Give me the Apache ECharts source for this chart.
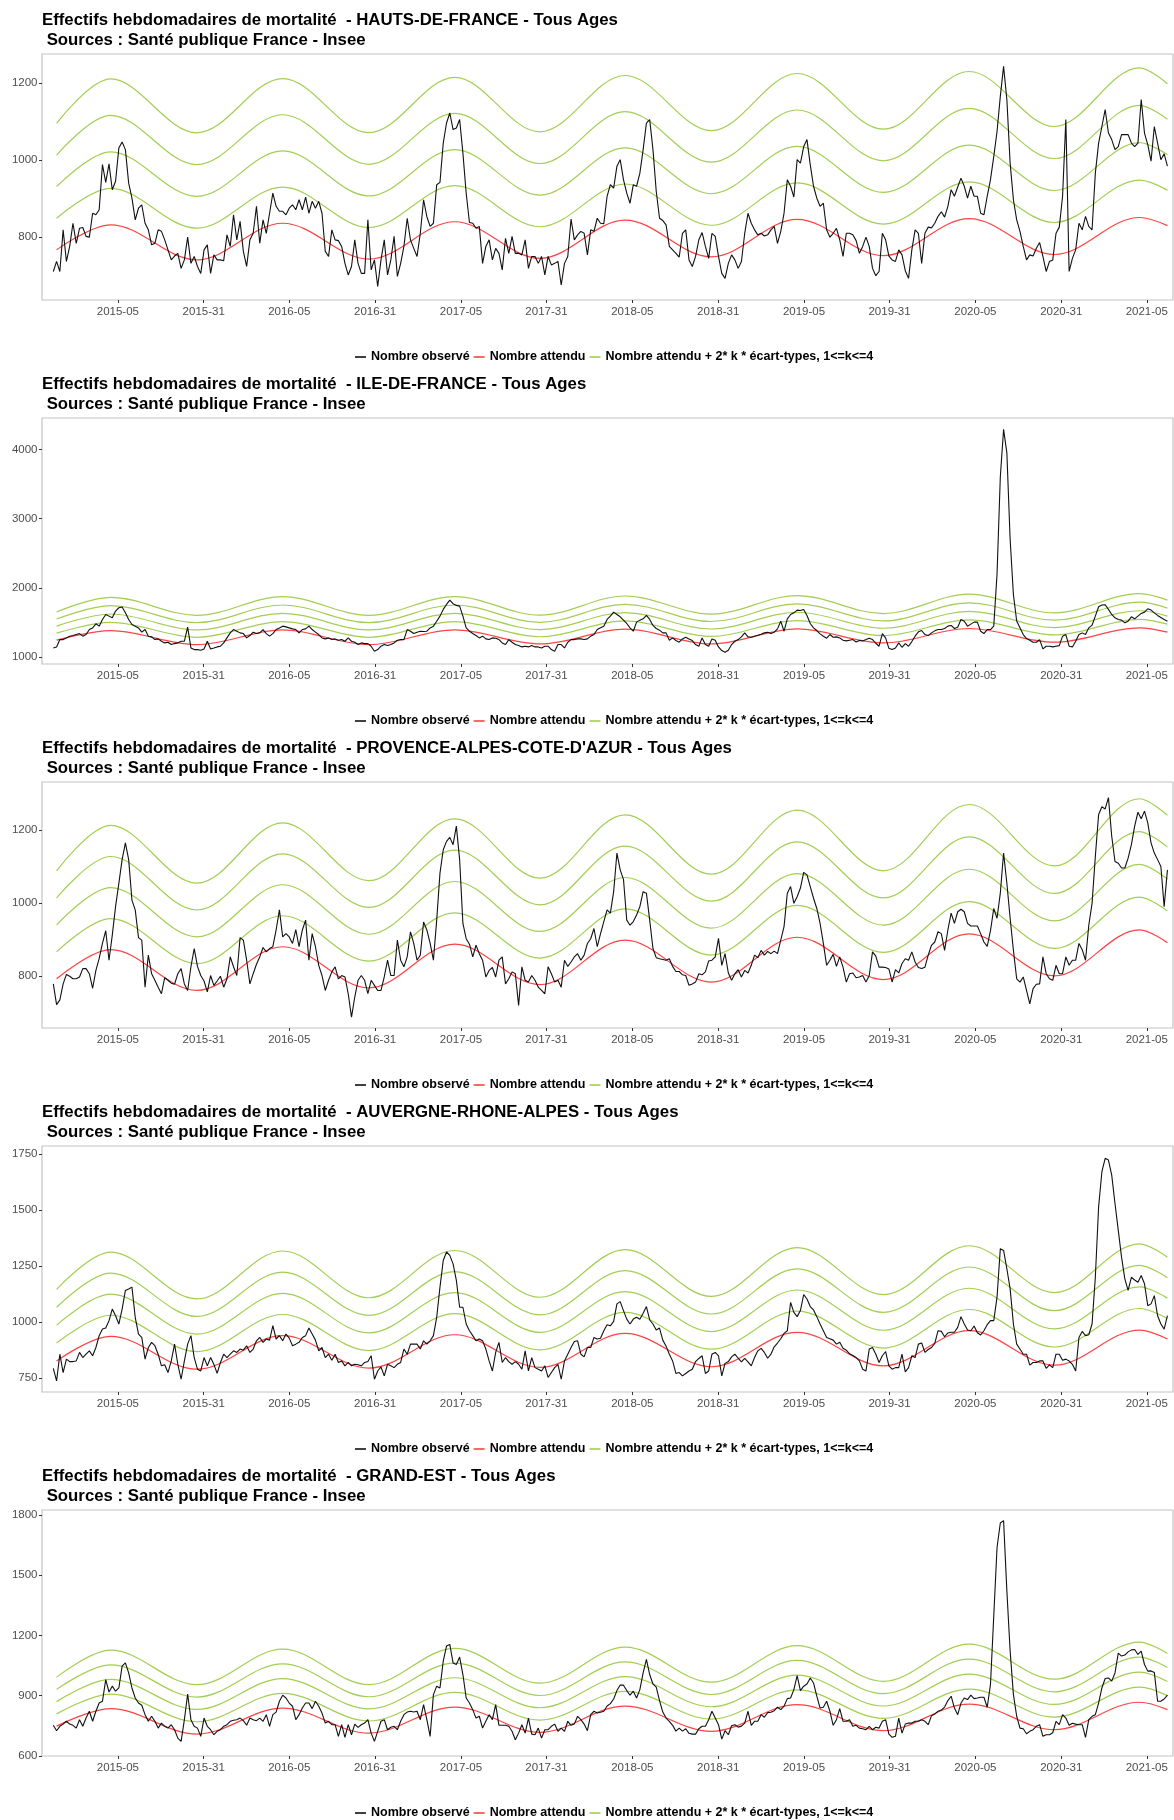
<!DOCTYPE html>
<html><head><meta charset="utf-8">
<script src="https://cdn.jsdelivr.net/npm/echarts@6/dist/echarts.min.js"></script>
<style>html,body{margin:0;padding:0;background:#fff}#c{width:1174px;height:1820px}</style>
</head><body><div id="c"></div>
<script>
// ---------- DATA ----------
const regions = ["HAUTS-DE-FRANCE", "ILE-DE-FRANCE", "PROVENCE-ALPES-COTE-D'AZUR", "AUVERGNE-RHONE-ALPES", "GRAND-EST"];
const titleSuffix = " - Tous Ages";
const subtitle = " Sources : Santé publique France - Insee";
const seriesNames = ["Nombre observé", "Nombre attendu", "Nombre attendu + 2* k * écart-types, 1<=k<=4"];

// x tick labels (weekly index from 2014-W37 = 0)
const xTickWeeks = [19.7, 45.9, 72.0, 98.2, 124.4, 150.5, 176.7, 202.9, 229.1, 255.2, 281.4, 307.6, 333.7];
const xTickLabels = ["2015-05","2015-31","2016-05","2016-31","2017-05","2017-31","2018-05","2018-31","2019-05","2019-31","2020-05","2020-31","2021-05"];

// observed weekly deaths (index 0 .. 340)
const obsHautsDeFrance = [
711,737,711,819,737,776,836,784,823,825,
802,800,862,858,871,988,942,990,923,945,
1031,1047,1027,940,901,845,875,884,836,819,
780,784,819,815,793,767,741,751,758,719,
741,800,732,750,724,706,767,780,706,754,
741,741,739,806,776,858,793,841,763,724,
793,810,880,784,845,810,862,914,880,867,
867,858,875,884,871,897,871,904,862,893,
875,893,862,763,750,819,793,791,776,732,
702,724,793,732,706,706,845,715,741,672,
741,793,702,741,802,698,732,776,849,793,
771,750,810,897,853,828,836,936,942,1044,
1096,1122,1079,1083,1105,1018,914,838,836,823,
828,732,776,793,741,771,758,715,797,758,
802,758,758,754,793,719,750,750,732,750,
702,750,728,732,737,676,732,750,847,793,
806,815,810,754,819,815,849,836,835,906,
936,927,984,1001,949,914,888,936,932,966,
1027,1096,1105,1027,919,849,843,832,776,767,
758,748,810,819,741,724,750,793,812,776,
745,810,802,750,706,693,732,754,741,719,
737,810,862,836,819,806,810,803,806,819,
828,784,815,862,949,932,904,1001,992,1035,
1053,988,932,901,880,888,819,800,810,823,
793,750,810,810,806,791,758,776,800,776,
719,700,711,810,793,751,741,737,767,754,
713,693,767,819,810,732,810,826,824,836,
854,866,852,880,923,906,930,953,932,901,
932,906,906,862,858,906,949,1009,1074,1165,
1243,1157,992,897,845,815,776,741,754,751,
771,786,750,711,737,741,810,826,906,1105,
711,745,767,836,819,854,828,819,966,1044,
1087,1131,1070,1053,1027,1035,1066,1066,1066,1044,
1035,1044,1157,1070,1040,997,1087,1044,1001,1016,
984];
const obsIleDeFrance = [
1130,1145,1251,1251,1275,1300,1309,1324,1338,1300,
1324,1396,1420,1479,1445,1542,1614,1590,1566,1663,
1711,1721,1638,1542,1469,1445,1420,1358,1396,1300,
1290,1251,1261,1227,1203,1213,1179,1193,1203,1227,
1227,1430,1130,1106,1106,1097,1116,1227,1116,1130,
1145,1155,1203,1275,1348,1396,1372,1348,1338,1275,
1309,1358,1338,1348,1396,1338,1300,1338,1396,1420,
1445,1435,1420,1406,1396,1348,1396,1406,1445,1396,
1358,1324,1275,1261,1275,1251,1261,1242,1251,1227,
1275,1227,1213,1179,1203,1193,1193,1155,1082,1106,
1155,1179,1164,1179,1203,1242,1251,1251,1396,1372,
1338,1358,1372,1367,1372,1420,1445,1517,1590,1687,
1759,1822,1770,1745,1735,1590,1420,1372,1338,1309,
1275,1300,1261,1251,1275,1271,1251,1203,1179,1251,
1213,1179,1164,1145,1155,1145,1164,1145,1145,1130,
1155,1155,1106,1082,1179,1179,1130,1213,1251,1251,
1261,1261,1251,1261,1300,1324,1396,1421,1445,1542,
1590,1648,1614,1580,1532,1484,1421,1372,1503,1532,
1551,1600,1542,1455,1411,1387,1348,1348,1242,1275,
1237,1213,1261,1285,1261,1237,1179,1155,1275,1179,
1155,1261,1242,1145,1092,1067,1097,1179,1227,1251,
1290,1348,1290,1285,1300,1314,1329,1348,1358,1338,
1358,1406,1517,1372,1551,1614,1638,1677,1672,1687,
1600,1484,1421,1382,1334,1300,1271,1324,1285,1290,
1275,1242,1232,1242,1251,1217,1237,1232,1251,1271,
1251,1198,1155,1338,1275,1125,1106,1130,1203,1140,
1193,1155,1222,1300,1363,1382,1324,1309,1348,1377,
1396,1396,1411,1445,1455,1411,1430,1542,1517,1445,
1474,1503,1503,1372,1338,1396,1396,1445,2200,3600,
4290,3950,2700,1900,1520,1421,1324,1266,1242,1213,
1213,1251,1116,1155,1155,1145,1155,1164,1300,1324,
1155,1145,1227,1324,1348,1324,1421,1459,1590,1725,
1750,1754,1687,1614,1566,1542,1532,1493,1517,1580,
1551,1590,1629,1648,1696,1677,1638,1600,1571,1542,
1517];
const obsPaca = [
778,721,734,778,804,799,792,792,797,820,
820,806,766,815,848,889,924,843,912,990,
1054,1119,1165,1119,1008,981,905,898,769,857,
806,788,769,751,795,788,780,777,806,820,
778,760,825,875,826,801,786,756,801,774,
786,799,769,792,852,825,801,905,898,843,
778,806,832,852,878,866,875,880,926,981,
907,916,907,889,927,880,926,953,843,916,
880,829,801,760,788,811,825,792,801,797,
751,687,742,788,801,788,751,788,774,760,
760,797,843,801,801,898,843,825,852,921,
889,843,857,948,926,889,843,953,1082,1146,
1169,1180,1160,1211,1119,944,902,887,852,884,
861,843,797,815,823,797,843,852,778,792,
811,806,719,825,788,783,801,788,769,760,
751,825,806,783,788,769,843,826,838,852,
861,843,857,889,902,930,880,916,949,981,
972,1031,1137,1091,1065,953,939,949,967,990,
1031,1027,953,875,850,847,845,843,847,826,
812,812,803,801,774,778,783,806,803,811,
841,843,852,903,829,861,808,788,806,817,
797,815,808,829,857,850,870,857,867,861,
868,861,898,935,1027,1045,999,1017,1041,1084,
1077,1045,1013,985,944,889,829,843,859,826,
852,824,783,806,808,795,797,801,783,801,
866,854,824,824,823,819,783,817,808,834,
847,843,866,838,823,820,824,857,884,893,
921,916,870,926,972,944,976,983,976,944,
937,937,937,916,893,881,924,985,958,1027,
1137,1054,958,870,792,783,797,760,723,765,
777,778,852,806,792,788,829,806,806,852,
829,843,843,889,872,843,939,999,1128,1243,
1264,1258,1289,1183,1114,1109,1096,1096,1123,1160,
1211,1249,1231,1252,1220,1165,1137,1119,1100,990,
1091];
const obsAra = [
793,737,856,774,834,823,823,826,864,841,
856,871,849,886,939,969,973,1006,1058,1028,
991,1058,1141,1148,1156,1021,946,931,834,886,
909,894,856,804,809,774,826,901,811,744,
826,901,939,841,789,781,841,804,841,811,
770,819,856,841,856,871,864,879,874,894,
864,879,916,931,909,924,919,984,924,939,
916,946,928,894,901,909,931,939,973,946,
919,871,886,841,856,829,856,819,826,804,
819,804,811,809,804,819,823,849,744,781,
799,759,811,804,796,811,819,879,856,901,
901,901,879,916,901,916,939,1021,1156,1275,
1313,1298,1260,1186,1066,1066,991,961,939,916,
924,916,879,826,781,864,909,819,841,823,
811,823,811,789,871,781,841,796,789,781,
804,752,774,796,811,744,826,856,886,913,
916,856,844,886,886,931,924,927,961,988,
983,1003,1081,1091,1051,1013,991,1013,1021,1012,
1039,1069,1009,991,964,973,919,892,856,826,
770,774,759,770,781,789,823,837,849,770,
781,856,864,849,759,815,823,844,856,838,
822,837,822,804,841,871,882,864,838,856,
889,906,925,949,961,1088,1043,1024,1051,1123,
1103,1069,1054,1024,991,961,931,925,919,901,
909,883,874,858,850,841,826,789,781,879,
886,856,819,849,868,804,789,796,796,856,
777,796,849,841,901,906,864,877,886,904,
961,958,934,951,954,954,976,1024,991,964,
961,982,952,942,961,988,1006,1006,1111,1328,
1320,1238,1148,991,901,879,856,856,807,819,
819,826,826,793,808,796,856,856,829,834,
826,811,781,931,958,939,943,991,1200,1515,
1672,1732,1724,1657,1530,1410,1290,1193,1141,1200,
1188,1178,1208,1171,1073,1081,1118,1028,991,968,
1028];
const obsGrandEst = [
752,725,747,758,772,758,752,738,780,747,
788,822,772,822,863,872,980,918,947,922,
938,1047,1063,1013,938,888,863,852,805,772,
797,772,738,763,747,738,755,730,688,672,
780,908,780,747,738,697,788,747,730,705,
722,730,747,755,772,777,780,788,775,752,
788,780,775,788,772,805,747,805,818,872,
902,888,863,847,780,805,838,863,863,835,
872,847,813,763,772,755,755,697,755,692,
755,705,758,742,755,763,780,713,672,722,
772,780,730,742,747,730,772,805,818,822,
818,822,780,855,780,697,905,947,938,1072,
1147,1155,1063,1055,1092,1005,888,863,830,788,
797,738,772,805,780,855,752,752,752,747,
722,680,713,755,713,788,708,705,738,688,
730,730,747,758,722,738,722,772,752,758,
797,780,758,725,805,822,813,817,822,848,
860,883,925,953,952,925,902,922,888,930,
1013,1080,1005,958,942,875,818,788,772,752,
723,738,723,735,712,708,708,735,747,747,
780,822,788,755,683,725,705,750,755,743,
748,763,822,752,772,772,805,792,815,817,
825,842,830,847,885,888,930,1000,925,947,
958,988,963,897,838,842,872,822,752,780,
835,772,772,780,747,752,738,735,730,747,
730,742,738,772,780,708,692,697,788,713,
758,763,763,772,772,780,772,755,800,808,
822,828,843,875,897,838,805,863,888,880,
902,885,888,892,892,842,955,1297,1638,1760,
1772,1422,1122,905,797,738,735,710,722,730,
747,755,697,705,705,715,772,755,805,788,
752,762,758,755,755,692,780,797,805,863,
938,985,988,972,1013,1112,1097,1102,1118,1128,
1130,1105,1122,1055,1022,1023,1015,872,872,883,
902];

// expected values and standard deviations, read at seasonal peaks / troughs
const expWeeks = [1, 17.5, 43.8, 70, 96.3, 122.5, 148.5, 174.5, 200.8, 227, 253.3, 279.5, 305.5, 331.5, 340];
const expHautsDeFrance = [767, 832, 741, 836, 743, 840, 745, 844, 749, 846, 752, 848, 755, 851, 830];
const sdHautsDeFrance  = [41, 47.3, 41.2, 46.9, 41, 46.8, 41, 46.9, 40.9, 47.3, 41, 47.7, 41.5, 48.5, 46];
const expIleDeFrance = [1242, 1381, 1178, 1391, 1178, 1391, 1188, 1401, 1188, 1406, 1203, 1411, 1213, 1420, 1358];
const sdIleDeFrance  = [51, 60, 53, 60, 53, 60, 52, 60, 54, 60, 53, 62, 53, 62, 58];
const expPaca = [792, 872, 760, 880, 767, 887, 776, 898, 783, 906, 790, 915, 800, 926, 891];
const sdPaca  = [37, 42.6, 36.8, 42.5, 36.8, 43, 36.5, 43, 37, 43.6, 37.3, 44.4, 37.7, 45, 43.7];
const expAra = [826, 936, 789, 939, 794, 943, 797, 949, 800, 954, 804, 961, 807, 964, 924];
const sdAra  = [40, 47.1, 39.3, 47.3, 39.3, 47.1, 39.2, 46.8, 39.3, 47.3, 39.8, 47.5, 40.6, 48.2, 45.7];
const expGrandEst = [748, 835, 708, 838, 713, 843, 717, 848, 722, 855, 725, 858, 730, 867, 830];
const sdGrandEst  = [30.5, 36.4, 30.8, 36.7, 30.2, 36.5, 30.6, 36.7, 30.6, 36.7, 30.8, 37.3, 31.5, 37.5, 35];

// y axis ticks and ranges
const yTicksHautsDeFrance = [800, 1000, 1200];
const yTicksIleDeFrance = [1000, 2000, 3000, 4000];
const yTicksPaca = [800, 1000, 1200];
const yTicksAra = [750, 1000, 1250, 1500, 1750];
const yTicksGrandEst = [600, 900, 1200, 1500, 1800];
const yRangeHautsDeFrance = [637, 1275];
const yRangeIleDeFrance = [898, 4454];
const yRangePaca = [657, 1332];
const yRangeAra = [687, 1787];
const yRangeGrandEst = [599, 1825];

// ---------- CHART ----------
const panels = [
  {region: regions[0], obs: obsHautsDeFrance, exp: expHautsDeFrance, sd: sdHautsDeFrance, yTicks: yTicksHautsDeFrance, yRange: yRangeHautsDeFrance},
  {region: regions[1], obs: obsIleDeFrance, exp: expIleDeFrance, sd: sdIleDeFrance, yTicks: yTicksIleDeFrance, yRange: yRangeIleDeFrance},
  {region: regions[2], obs: obsPaca, exp: expPaca, sd: sdPaca, yTicks: yTicksPaca, yRange: yRangePaca},
  {region: regions[3], obs: obsAra, exp: expAra, sd: sdAra, yTicks: yTicksAra, yRange: yRangeAra},
  {region: regions[4], obs: obsGrandEst, exp: expGrandEst, sd: sdGrandEst, yTicks: yTicksGrandEst, yRange: yRangeGrandEst}
];
const FONT = "'Liberation Sans', Arial, Helvetica, sans-serif";
const BLACK = '#111111', RED = '#ff4242', GREEN = '#a2cf52';
const option = {animation: false, backgroundColor: '#ffffff', title: [], legend: [], grid: [], xAxis: [], yAxis: [], series: []};

panels.forEach((p, i) => {
  const off = 364 * i;
  option.title.push({
    text: 'Effectifs hebdomadaires de mortalité  - ' + p.region + titleSuffix + '\n' + subtitle,
    left: 42, top: off + 10, padding: 0,
    textStyle: {fontFamily: FONT, fontSize: 16.8, fontWeight: 'bold', color: '#000', lineHeight: 20}
  });
  option.legend.push({
    data: seriesNames.slice(), left: 355, top: off + 350.5, padding: 0,
    itemWidth: 11, itemHeight: 1.6, itemGap: 4, icon: 'rect', selectedMode: false,
    textStyle: {fontFamily: FONT, fontSize: 12.5, fontWeight: 'bold', color: '#000'}
  });
  option.grid.push({left: 42, right: 1, top: off + 54, height: 246, show: true, borderColor: '#c4c4c4', borderWidth: 1.2, backgroundColor: 'transparent'});
  option.xAxis.push({
    type: 'value', gridIndex: i, min: -3.45, max: 341.7,
    axisLine: {show: false, onZero: false}, splitLine: {show: false},
    axisTick: {show: true, customValues: xTickWeeks, length: 3, lineStyle: {color: '#333'}},
    axisLabel: {customValues: xTickWeeks, formatter: v => { const j = xTickWeeks.indexOf(v); return j >= 0 ? xTickLabels[j] : ''; },
      color: '#4d4d4d', fontSize: 11.5, fontFamily: FONT, margin: 6}
  });
  option.yAxis.push({
    type: 'value', gridIndex: i, min: p.yRange[0], max: p.yRange[1],
    axisLine: {show: false, onZero: false}, splitLine: {show: false},
    axisTick: {show: true, customValues: p.yTicks, length: 3, lineStyle: {color: '#333'}},
    axisLabel: {customValues: p.yTicks, formatter: v => String(Math.round(v)), color: '#4d4d4d', fontSize: 11.5, fontFamily: FONT, margin: 4.5}
  });
  for (let k = 1; k <= 4; k++) {
    option.series.push({
      name: seriesNames[2], type: 'line', xAxisIndex: i, yAxisIndex: i, silent: true,
      data: expWeeks.map((w, j) => [w, p.exp[j] + 2 * k * p.sd[j]]),
      smooth: 0.35, symbol: 'none', lineStyle: {color: GREEN, width: 1.2}, itemStyle: {color: GREEN}
    });
  }
  option.series.push({
    name: seriesNames[1], type: 'line', xAxisIndex: i, yAxisIndex: i, silent: true,
    data: expWeeks.map((w, j) => [w, p.exp[j]]),
    smooth: 0.35, symbol: 'none', lineStyle: {color: RED, width: 1.2}, itemStyle: {color: RED}
  });
  option.series.push({
    name: seriesNames[0], type: 'line', xAxisIndex: i, yAxisIndex: i, silent: true,
    data: p.obs.map((v, k) => [k, v]),
    symbol: 'none', lineStyle: {color: BLACK, width: 1.1}, itemStyle: {color: BLACK}
  });
});

const chart = echarts.init(document.getElementById('c'), null, {renderer: 'canvas'});
chart.setOption(option);
</script>
</body></html>
